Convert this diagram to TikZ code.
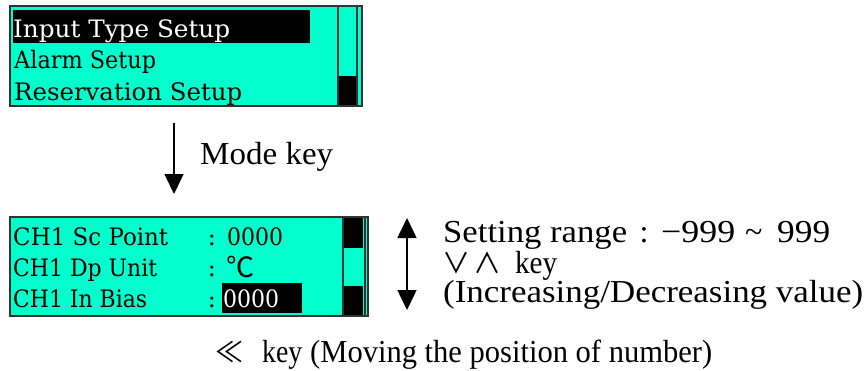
\documentclass[tikz,border=0pt]{standalone}
\usepackage{graphicx}
\usepackage{fontspec}
\usetikzlibrary{arrows.meta}
\setmainfont{Liberation Serif}
\newfontfamily\boxfont{DejaVu Serif}
\newfontfamily\symfont{DejaVu Sans}
\newfontfamily\cjkfont{Noto Sans CJK KR}
\newcommand{\fitw}[2]{\resizebox{#1}{\height}{#2}}
\definecolor{lcd}{RGB}{0,255,204}
\definecolor{frm}{RGB}{51,51,51}
\begin{document}
\begin{tikzpicture}[x=1pt,y=-1pt,
 boxtxt/.style={anchor=base west,inner sep=0pt,font=\boxfont\fontsize{24}{28}\selectfont},
 coltxt/.style={anchor=base,inner sep=0pt,font=\boxfont\fontsize{24}{28}\selectfont},
 outtxt/.style={anchor=base west,inner sep=0pt,font=\fontsize{32}{38}\selectfont},
 symtxt/.style={anchor=base west,inner sep=0pt,font=\cjkfont\fontsize{28}{32}\selectfont},
 lcdpanel/.style={fill=lcd,draw=frm,line width=2pt},
 sbline/.style={draw=frm,line width=1.5pt},
 tipA/.tip={Triangle[width=19pt,length=20pt]},
 arr/.style={line width=1.6pt,-tipA},
 darr/.style={line width=1.6pt,tipA-tipA}
]
\useasboundingbox (0,0) rectangle (868,370);
% ---- top panel
\path[lcdpanel] (10,6) rectangle (362,106);
\begin{scope}
\clip (11,7) rectangle (361,105);
\fill[black] (13,10) rectangle (310,43);
\node[boxtxt,text=white] (t1) at (13,37) {\fitw{217pt}{Input Type Setup}};
\node[boxtxt] (t2) at (14,68) {\fitw{142pt}{Alarm Setup}};
\node[boxtxt] (t3) at (14,100) {\fitw{228pt}{Reservation Setup}};
\fill[black] (338,76) rectangle (357,105);
\draw[sbline] (338,7) -- (338,105);
\draw[sbline] (357,7) -- (357,105);
\end{scope}
% ---- mode arrow
\coordinate (m1) at (174,123);
\coordinate (m2) at (174,194);
\draw[arr] (m1) -- (m2);
\node[outtxt] (mk) at (200,164) {\fitw{133pt}{Mode key}};
% ---- bottom panel
\path[lcdpanel] (10,217) rectangle (368,316);
\begin{scope}
\clip (11,218) rectangle (367,315);
\fill[black] (343,218) rectangle (363,248);
\fill[black] (343,286) rectangle (363,315);
\draw[sbline] (343,218) -- (343,315);
\draw[sbline] (365,218) -- (365,315);
\node[boxtxt] (c1) at (13,245) {\fitw{155pt}{CH1 Sc Point}};
\node[boxtxt] (c2) at (13,276) {\fitw{144pt}{CH1 Dp Unit}};
\node[boxtxt] (c3) at (13,307) {\fitw{134pt}{CH1 In Bias}};
\node[coltxt] (k1) at (212,245) {:};
\node[coltxt] (k2) at (212,276) {:};
\node[coltxt] (k3) at (212,307) {:};
\node[boxtxt] (v1) at (227,245) {\fitw{56pt}{0000}};
\node[boxtxt,anchor=base,font=\cjkfont\fontsize{28}{32}\selectfont] (v2) at (240,277) {℃};
\fill[black] (222,283) rectangle (302,313);
\node[boxtxt,text=white] (v3) at (223,307) {\fitw{56pt}{0000}};
\end{scope}
% ---- up/down arrow
\coordinate (u1) at (407,218);
\coordinate (u2) at (407,310);
\draw[darr] (u1) -- (u2);
\node[outtxt] (r1) at (443,242) {\fitw{184pt}{Setting range}};
\node[outtxt,anchor=base] (r1c) at (644,242) {:};
\node[outtxt] (r1a) at (661,242) {\fitw{74pt}{−999}};
\node[outtxt] (r1t) at (745,242) {\char`~};
\node[outtxt] (r1b) at (777,242) {\fitw{53pt}{999}};
\node[symtxt,anchor=base] (r2s) at (456,273) {∨};
\node[symtxt,anchor=base] (r2t) at (487,273) {∧};
\node[outtxt] (r2) at (515,273) {\fitw{42pt}{key}};
\node[outtxt] (r3) at (443,302) {\fitw{420pt}{(Increasing/Decreasing value)}};
% ---- bottom line
\node[symtxt,anchor=base] (b1) at (229,362) {≪};
\node[outtxt] (b2) at (262,362) {\fitw{40pt}{key}};
\node[outtxt] (b3) at (310,362) {\fitw{402pt}{(Moving the position of number)}};
\end{tikzpicture}
\end{document}
